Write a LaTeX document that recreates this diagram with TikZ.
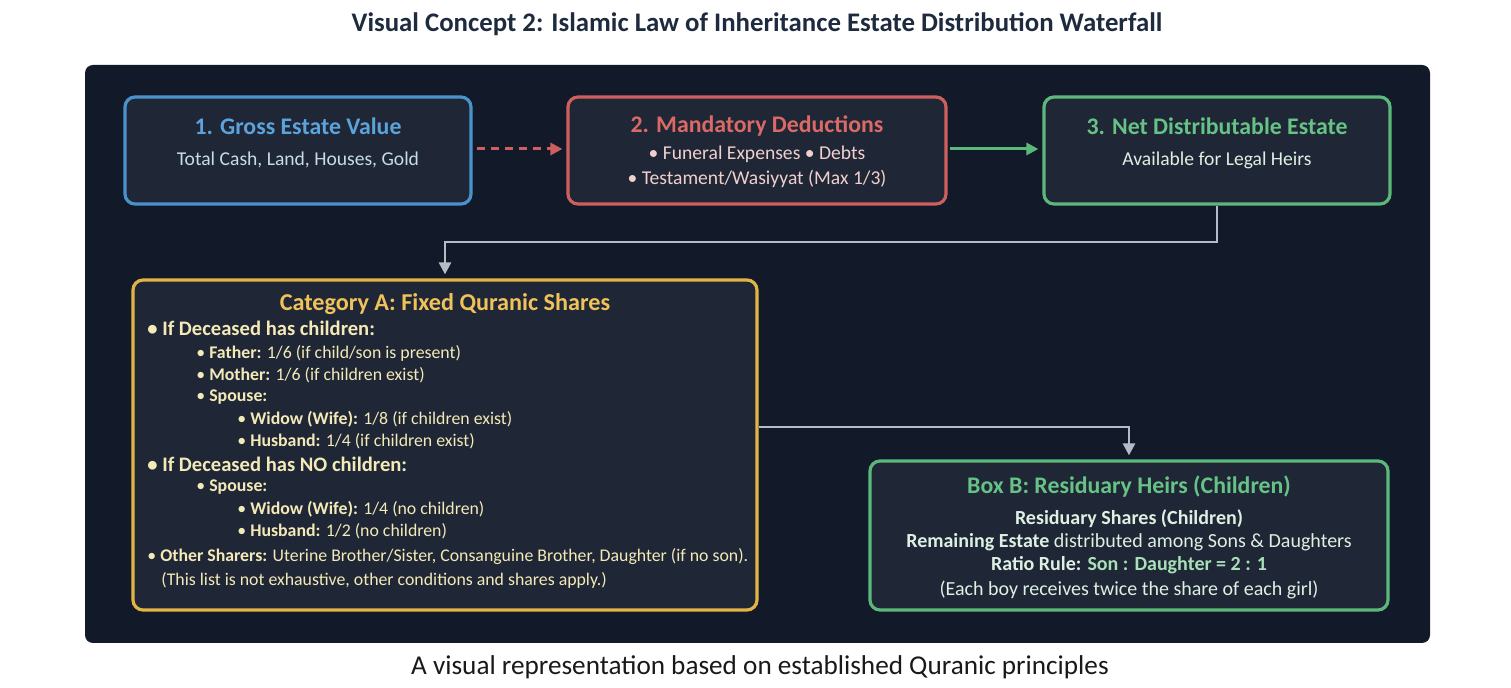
\documentclass[tikz,border=0pt]{standalone}
\usepackage{fontspec}
\setmainfont{Carlito}
\usetikzlibrary{arrows.meta,calc}
\definecolor{panel}{HTML}{121A2A}
\definecolor{boxfill}{HTML}{1F2636}
\definecolor{cblue}{HTML}{4A92CC}
\definecolor{cbluet}{HTML}{5BA3DA}
\definecolor{cbluesub}{HTML}{C5DCEC}
\definecolor{cred}{HTML}{CF5E5E}
\definecolor{credt}{HTML}{DB6A66}
\definecolor{credsub}{HTML}{F0D0CC}
\definecolor{cgreen}{HTML}{5CB87A}
\definecolor{cgreent}{HTML}{66C285}
\definecolor{cgreensub}{HTML}{DDF0E2}
\definecolor{cgreenhi}{HTML}{A8E0B8}
\definecolor{cgold}{HTML}{E3B445}
\definecolor{cgoldt}{HTML}{F0C25A}
\definecolor{ccream}{HTML}{F4EAB8}
\definecolor{cgray}{HTML}{B4BCC8}
\definecolor{ctitle}{HTML}{1E2A3E}
\tikzset{
  card/.style={draw=#1, line width=1.6pt, rounded corners=5pt, fill=boxfill, inner sep=0pt},
  cardtitle/.style={font=\bfseries\fontsize{11.9}{13}\selectfont, text=#1, inner sep=0pt},
  cardsub/.style={font=\fontsize{9.8}{11}\selectfont, text=#1, inner sep=0pt},
  aline/.style={font=\fontsize{8.9}{10}\selectfont, text=ccream, anchor=west, inner sep=0pt},
  ahead/.style={font=\bfseries\fontsize{10.3}{11}\selectfont, text=ccream, anchor=west, inner sep=0pt},
  bline/.style={font=\fontsize{10}{11}\selectfont, text=cgreensub, inner sep=0pt},
  conn/.style={draw=cgray, line width=1.4pt, -{Triangle[length=6pt,width=6pt]}},
}
\begin{document}
\begin{tikzpicture}[x=0.5pt,y=-0.5pt]
\useasboundingbox (0,0) rectangle (1511,688);
% titles
\node[font=\bfseries\fontsize{13.4}{15}\selectfont, text=ctitle, inner sep=0pt] (title) at (757,24) {Visual Concept 2: Islamic Law of Inheritance Estate Distribution Waterfall};
\node[font=\fontsize{13.6}{15}\selectfont, text=black!90, inner sep=0pt] (caption) at (760,667) {A visual representation based on established Quranic principles};
% panel
\fill[panel, rounded corners=4pt] (85,65) rectangle (1430,643);
% top boxes
\node[card=cblue, minimum width=173pt, minimum height=53.5pt] (b1) at (298,150.5) {};
\node[cardtitle=cbluet] (b1t) at (298,126) {1. Gross Estate Value};
\node[cardsub=cbluesub] (b1s) at (298,160) {Total Cash, Land, Houses, Gold};

\node[card=cred, minimum width=189pt, minimum height=53.5pt] (b2) at (757,150.5) {};
\node[cardtitle=credt] (b2t) at (757,126) {2. Mandatory Deductions};
\node[cardsub=credsub] (b2s) at (757,154) {\textbullet\ Funeral Expenses \textbullet\ Debts};
\node[cardsub=credsub] (b2u) at (757,179) {\textbullet\ Testament/Wasiyyat (Max 1/3)};

\node[card=cgreen, minimum width=173pt, minimum height=53.5pt] (b3) at (1217,150.5) {};
\node[cardtitle=cgreent] (b3t) at (1217,126) {3. Net Distributable Estate};
\node[cardsub=cgreensub] (b3s) at (1217,160) {Available for Legal Heirs};

% connectors top
\draw[draw=cred, line width=1.5pt, dash pattern=on 4pt off 3pt, -{Triangle[length=6pt,width=6pt]}, shorten <=2pt, shorten >=2pt] (b1.east |- 0,149) -- (b2.west |- 0,149);
\draw[draw=cgreen, line width=1.5pt, -{Triangle[length=6pt,width=6pt]}, shorten <=1pt, shorten >=2pt] (b2.east |- 0,149) -- (b3.west |- 0,149);

% Box A
\node[card=cgold, minimum width=312pt, minimum height=165pt] (bA) at (445,445) {};
\node[font=\bfseries\fontsize{12.1}{13}\selectfont, text=cgoldt, inner sep=0pt] (bAt) at (445,304) {Category A: Fixed Quranic Shares};
\node[ahead] (a1) at (147,328) {\textbullet\ If Deceased has children:};
\node[aline] (a2) at (196,353) {\textbullet\ \textbf{Father:} 1/6 (if child/son is present)};
\node[aline] (a3) at (196,375) {\textbullet\ \textbf{Mother:} 1/6 (if children exist)};
\node[aline] (a4) at (196,397) {\textbullet\ \textbf{Spouse:}};
\node[aline] (a5) at (237,419) {\textbullet\ \textbf{Widow (Wife):} 1/8 (if children exist)};
\node[aline] (a6) at (237,441) {\textbullet\ \textbf{Husband:} 1/4 (if children exist)};
\node[ahead] (a7) at (147,464) {\textbullet\ If Deceased has NO children:};
\node[aline] (a8) at (196,487) {\textbullet\ \textbf{Spouse:}};
\node[aline] (a9) at (237,509) {\textbullet\ \textbf{Widow (Wife):} 1/4 (no children)};
\node[aline] (a10) at (237,531) {\textbullet\ \textbf{Husband:} 1/2 (no children)};
\node[aline] (a11) at (147,557) {\textbullet\ \textbf{Other Sharers:} Uterine Brother/Sister, Consanguine Brother, Daughter (if no son).};
\node[aline] (a12) at (161,580) {(This list is not exhaustive, other conditions and shares apply.)};

% Box B
\node[card=cgreen, minimum width=259pt, minimum height=74.5pt] (bB) at (1129,535.5) {};
\node[cardtitle=cgreent] (bBt) at (1129,487) {Box B: Residuary Heirs (Children)};
\node[bline] (bB1) at (1129,519) {\textbf{Residuary Shares (Children)}};
\node[bline] (bB2) at (1129,542) {\textbf{Remaining Estate} distributed among Sons \& Daughters};
\node[bline] (bB3) at (1129,565) {\textbf{Ratio Rule: \textcolor{cgreenhi}{Son : Daughter = 2 : 1}}};
\node[bline] (bB4) at (1129,590) {(Each boy receives twice the share of each girl)};

% connectors
\coordinate (j1) at (0,242);
\coordinate (j2) at (0,427);
\draw[conn, shorten >=2pt] (b3.south) -- (b3.south |- j1) -| (bA.north);
\draw[conn, shorten >=2pt] (bA.east |- j2) -| (bB.north);
\end{tikzpicture}
\end{document}
